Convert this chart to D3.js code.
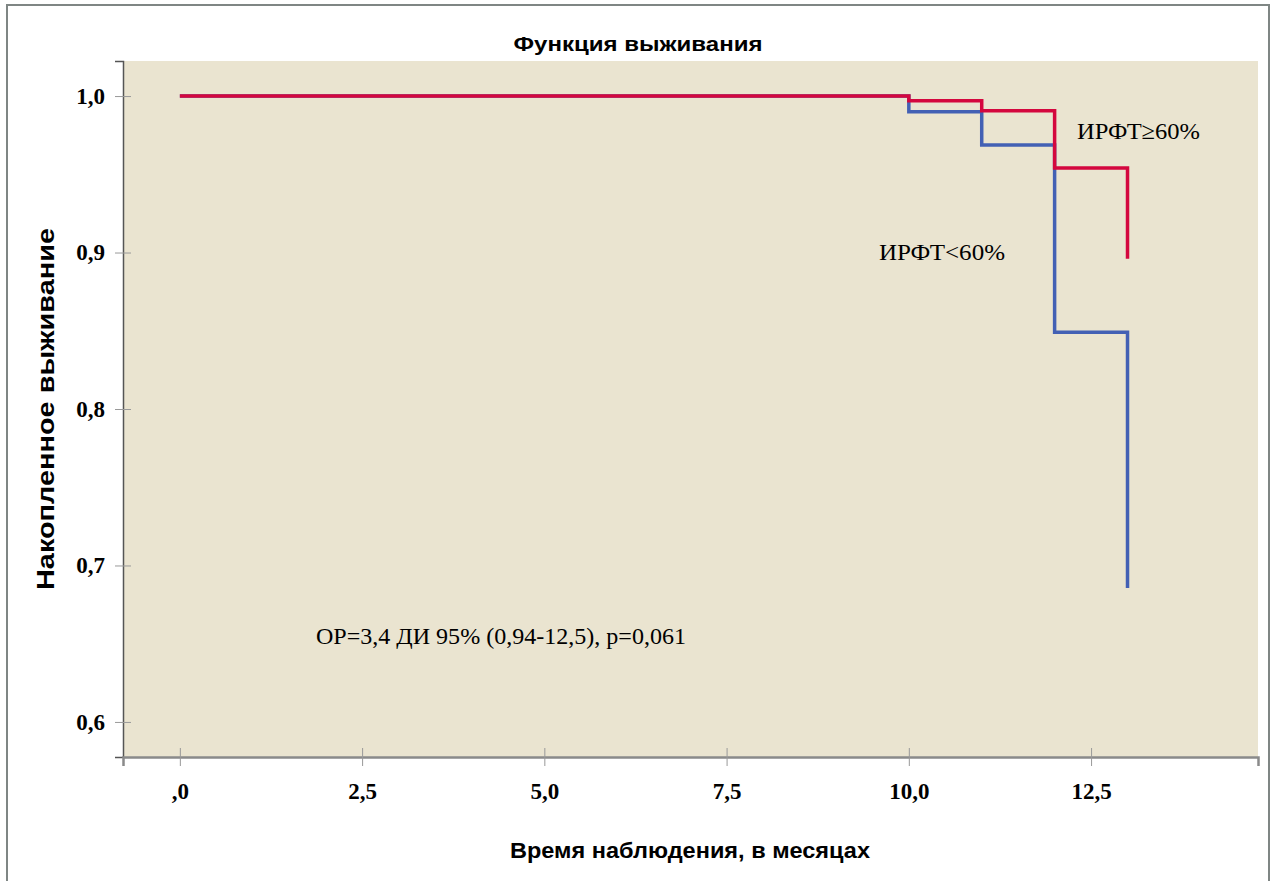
<!DOCTYPE html>
<html>
<head>
<meta charset="utf-8">
<script src="https://cdn.jsdelivr.net/npm/d3@7"></script>
<style>
  body { margin: 0; background: #fff; }
  svg text { fill: #000; }
</style>
</head>
<body>
<div id="chart"></div>
<script>
// survival data (Kaplan-Meier steps), time in months
const times = [0, 10, 11, 12, 13];
const survHigh = [1.0, 0.997, 0.9906, 0.954, 0.896];   // ИРФТ≥60%
const survLow = [1.0, 0.990, 0.9687, 0.849, 0.6856];   // ИРФТ<60%
const xTicks = [0, 2.5, 5, 7.5, 10, 12.5];
const yTicks = [0.6, 0.7, 0.8, 0.9, 1.0];

const W = 1275, H = 881;
const plot = { left: 123, top: 61, right: 1258, bottom: 757 };
const sans = "'Liberation Sans', Arial, sans-serif";
const serif = "'Liberation Serif', 'Times New Roman', serif";

const svg = d3.select("#chart").append("svg")
    .attr("width", W)
    .attr("height", H);

// outer frame
svg.append("rect")
    .attr("x", 7).attr("y", 5)
    .attr("width", 1262).attr("height", 900)
    .attr("fill", "none")
    .attr("stroke", "#7f8684")
    .attr("stroke-width", 2);

const x = d3.scaleLinear()
    .domain([-0.78, 14.79])
    .range([plot.left, plot.right]);
const y = d3.scaleLinear()
    .domain([0.5776, 1.0224])
    .range([plot.bottom, plot.top]);

// plot background
svg.append("rect")
    .attr("x", plot.left).attr("y", plot.top)
    .attr("width", plot.right - plot.left)
    .attr("height", plot.bottom - plot.top)
    .attr("fill", "#eae4d0");

const fmt = v => {
    let s = d3.format(".1f")(v).replace(".", ",");
    return s == "0,0" ? ",0" : s;
};

// y axis
const yAxis = svg.append("g")
    .attr("transform", `translate(${plot.left},0)`)
    .call(d3.axisLeft(y).tickValues(yTicks).tickFormat(fmt).tickSize(8).tickPadding(10));
yAxis.select(".domain").attr("stroke", "#555").attr("stroke-width", 1.5);
yAxis.selectAll(".tick line").attr("x1", -8).attr("x2", 8).attr("stroke", "#999");
yAxis.selectAll(".tick text")
    .attr("font-family", serif)
    .attr("font-weight", "bold")
    .attr("font-size", 23);

// x axis
const xAxis = svg.append("g")
    .attr("transform", `translate(0,${plot.bottom})`)
    .call(d3.axisBottom(x).tickValues(xTicks).tickFormat(fmt).tickSize(9).tickPadding(17));
xAxis.select(".domain").attr("stroke", "#8a8a8a").attr("stroke-width", 2.5);
xAxis.selectAll(".tick line").attr("y1", -9).attr("y2", 9).attr("stroke", "#999");
xAxis.selectAll(".tick text")
    .attr("font-family", serif)
    .attr("font-weight", "bold")
    .attr("font-size", 23);

// survival curves
const line = d3.line()
    .x((d, i) => x(times[i]))
    .y(d => y(d))
    .curve(d3.curveStepAfter);

svg.append("path")
    .datum(survLow)
    .attr("d", line)
    .attr("fill", "none")
    .attr("stroke", "#4360b4")
    .attr("stroke-width", 3.5);

svg.append("path")
    .datum(survHigh)
    .attr("d", line)
    .attr("fill", "none")
    .attr("stroke", "#d4073e")
    .attr("stroke-width", 3.5);

// titles
svg.append("text")
    .attr("x", 638).attr("y", 51)
    .attr("text-anchor", "middle")
    .attr("font-family", sans).attr("font-weight", "bold")
    .attr("font-size", 21)
    .attr("textLength", 249).attr("lengthAdjust", "spacingAndGlyphs")
    .text("Функция выживания");

svg.append("text")
    .attr("transform", "translate(54,409) rotate(-90)")
    .attr("text-anchor", "middle")
    .attr("font-family", sans).attr("font-weight", "bold")
    .attr("font-size", 23)
    .attr("textLength", 362).attr("lengthAdjust", "spacingAndGlyphs")
    .text("Накопленное выживание");

svg.append("text")
    .attr("x", 690).attr("y", 858)
    .attr("text-anchor", "middle")
    .attr("font-family", sans).attr("font-weight", "bold")
    .attr("font-size", 22)
    .attr("textLength", 360).attr("lengthAdjust", "spacingAndGlyphs")
    .text("Время наблюдения, в месяцах");

// annotations
svg.append("text")
    .attr("x", 1077).attr("y", 139)
    .attr("font-family", serif).attr("font-size", 24)
    .attr("textLength", 123).attr("lengthAdjust", "spacingAndGlyphs")
    .text("ИРФТ≥60%");
svg.append("text")
    .attr("x", 879).attr("y", 260)
    .attr("font-family", serif).attr("font-size", 24)
    .attr("textLength", 126).attr("lengthAdjust", "spacingAndGlyphs")
    .text("ИРФТ<60%");
svg.append("text")
    .attr("x", 316).attr("y", 644)
    .attr("font-family", serif).attr("font-size", 24)
    .attr("textLength", 370).attr("lengthAdjust", "spacingAndGlyphs")
    .text("ОР=3,4 ДИ 95% (0,94-12,5), p=0,061");
</script>
</body>
</html>
